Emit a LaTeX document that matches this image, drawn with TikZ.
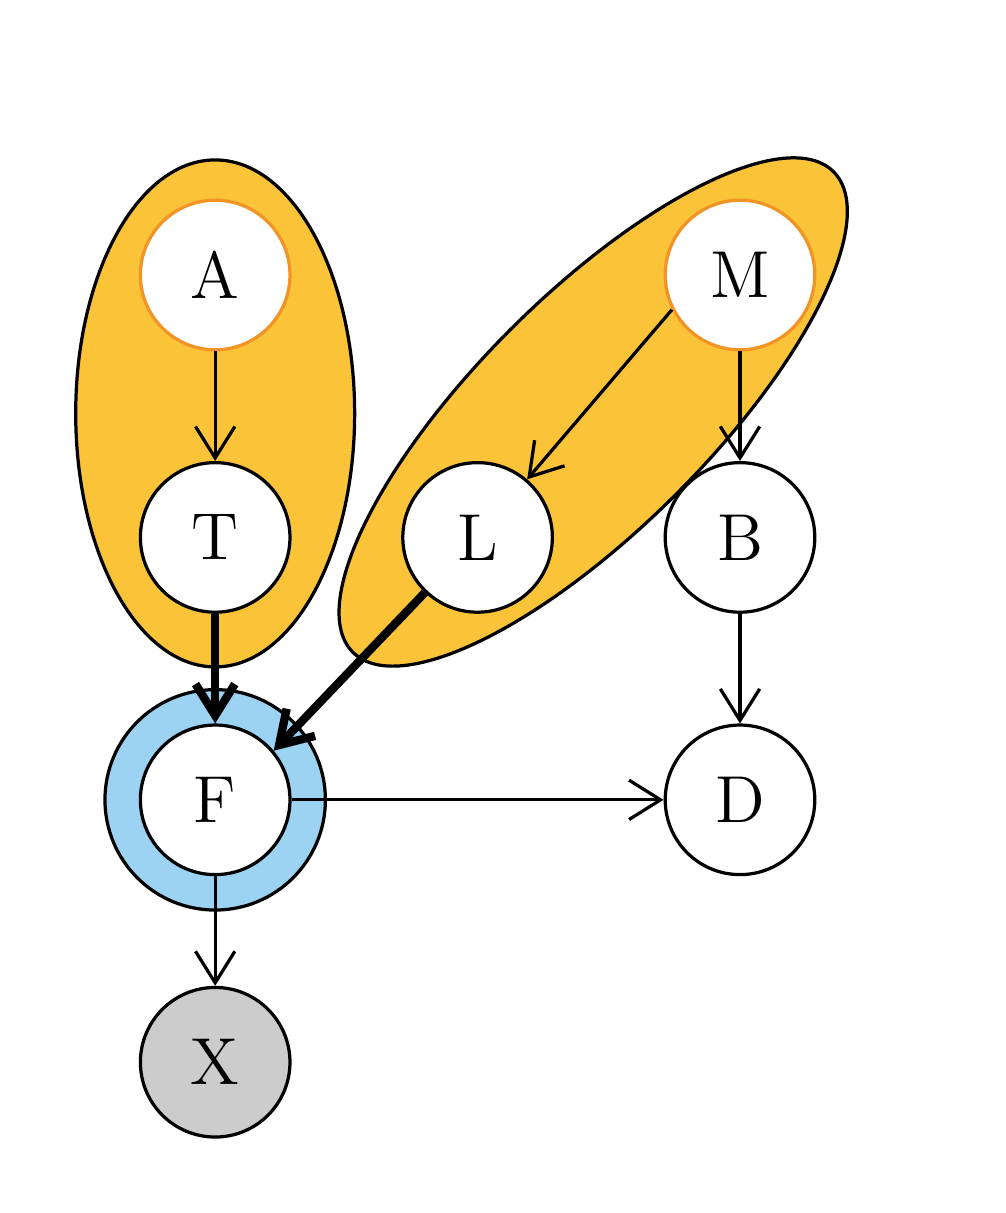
\documentclass[tikz,border=0pt]{standalone}
\usepackage{xcolor}
\usepackage{tikz}
\usetikzlibrary{arrows.meta,shapes.geometric}
\definecolor{groupgold}{HTML}{FBC338}
\definecolor{rootorange}{HTML}{F29325}
\definecolor{ringblue}{HTML}{9DD3F2}
\definecolor{obsgray}{HTML}{CCCCCC}

\begin{document}
\begin{tikzpicture}[
		v/.style={circle,draw,line width=0.7pt,fill=white,minimum size=1.14cm,inner sep=0pt,font=\Large},
		root/.style={v,draw=rootorange},
		obs/.style={v,fill=obsgray},
		ring/.style={circle,draw,line width=0.7pt,fill=ringblue,minimum size=1.68cm,inner sep=0pt},
		grp/.style={draw,line width=0.7pt,fill=groupgold},
		e/.style={-{Straight Barb[length=2.4mm,width=3mm]},line width=0.7pt},
		he/.style={-{Straight Barb[length=2.4mm,width=3mm]},line width=1.8pt}
		]
		\useasboundingbox (-1.64,2.096) rectangle (6.021,-7.149);

		% groups
		\draw[grp] (0,-1.055) ellipse [x radius=1.063cm, y radius=1.932cm];
		\draw[grp,rotate around={45:(2.881,-1.044)}] (2.881,-1.044) ellipse [x radius=2.59cm, y radius=0.89cm];
		\node[ring] (Fring) at (0,-4) {};

		% variables
		\node[root] (A) at (0,0) {A};
		\node[root] (M) at (4,0) {M};
		\node[v] (T) at (0,-2) {T};
		\node[v] (L) at (2,-2) {L};
		\node[v] (B) at (4,-2) {B};
		\node[v] (F) at (0,-4) {F};
		\node[v] (D) at (4,-4) {D};
		\node[obs] (X) at (0,-6) {X};

		\draw[e] (A)--(T); \draw[e] (M.207)--(L); \draw[e] (M)--(B);
		\draw[e] (B)--(D); \draw[e] (F)--(D); \draw[e] (F)--(X);
		\draw[he] (T)--(F); \draw[he] (L)--(F.40);
	\end{tikzpicture}
\end{document}
